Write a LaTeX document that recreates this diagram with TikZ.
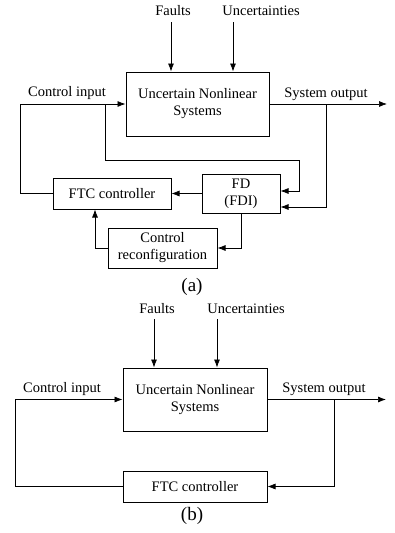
\documentclass[tikz,border=0pt]{standalone}
\usepackage{fontspec}
\setmainfont{Liberation Serif}
\usepackage{tikz}
\usetikzlibrary{positioning,arrows.meta}

\begin{document}
\begin{tikzpicture}[x=1pt,y=-1pt,->,>={Latex[length=8pt,width=6pt]},line width=0.7pt,
    font=\fontsize{14.5}{17}\selectfont]
    \tikzstyle{block}=[draw,-,line width=1pt,align=center,inner sep=0pt]
    \tikzstyle{annot}=[inner sep=0pt,anchor=base]
    \tikzstyle{caption}=[annot,font=\fontsize{19}{22}\selectfont]

    \useasboundingbox (0,0) rectangle (394,533);

    % Draw the blocks of panel (a)
    \node[block,minimum width=143pt,minimum height=64pt] (Sys-a) at (197.5,104) {Uncertain Nonlinear\\Systems};
    \node[block,minimum width=78pt,minimum height=39pt] (FD-a) at (241,193.5) {FD\\(FDI)};
    \node[block,minimum width=118pt,minimum height=31pt] (FTC-a) at (112,193.5) {FTC controller};
    \node[block,minimum width=109pt,minimum height=40pt] (Rec-a) at (162.5,248) {Control\\reconfiguration};

    % Annotate the signals of panel (a)
    \node[annot] (Faults-a) at (173,15) {Faults};
    \node[annot] (Unc-a) at (261,15) {Uncertainties};
    \node[annot] (In-a) at (67,96.7) {Control input};
    \node[annot] (Out-a) at (326,97.7) {System output};
    \node[caption] (Cap-a) at (192,291) {(a)};

    % Connect the blocks of panel (a)
    \coordinate (F-a) at (171,22);
    \coordinate (U-a) at (233,22);
    \coordinate (J1-a) at (105,104);
    \coordinate (J2-a) at (326,104);
    \coordinate (Y-a) at (387,104);
    \draw (F-a) -- (F-a |- Sys-a.north);
    \draw (U-a) -- (U-a |- Sys-a.north);
    \draw (FTC-a.west) -- ++(-32,0) |- (Sys-a.west);
    \draw (Sys-a.east) -- (Y-a);
    \draw (J1-a) |- (299,160) |- ([yshift=2.5pt]FD-a.east);
    \draw (J2-a) |- ([yshift=-13.5pt]FD-a.east);
    \draw (FD-a.west) -- (FTC-a.east);
    \draw (FD-a.south) |- (Rec-a.east);
    \draw (Rec-a.west) -| ([xshift=-17pt]FTC-a.south);

    % Draw the blocks of panel (b)
    \node[block,minimum width=144pt,minimum height=63pt] (Sys-b) at (195,399.5) {Uncertain Nonlinear\\Systems};
    \node[block,minimum width=144pt,minimum height=31pt] (FTC-b) at (195,486.5) {FTC controller};

    % Annotate the signals of panel (b)
    \node[annot] (Faults-b) at (157,313) {Faults};
    \node[annot] (Unc-b) at (246,313) {Uncertainties};
    \node[annot] (In-b) at (62,392) {Control input};
    \node[annot] (Out-b) at (324,392) {System output};
    \node[caption] (Cap-b) at (192,520) {(b)};

    % Connect the blocks of panel (b)
    \coordinate (F-b) at (154,319);
    \coordinate (U-b) at (217,319);
    \coordinate (J2-b) at (334,399.5);
    \coordinate (Y-b) at (386,399.5);
    \draw (F-b) -- (F-b |- Sys-b.north);
    \draw (U-b) -- (U-b |- Sys-b.north);
    \draw (FTC-b.west) -- ++(-107,0) |- (Sys-b.west);
    \draw (Sys-b.east) -- (Y-b);
    \draw (J2-b) |- (FTC-b.east);
\end{tikzpicture}
\end{document}
